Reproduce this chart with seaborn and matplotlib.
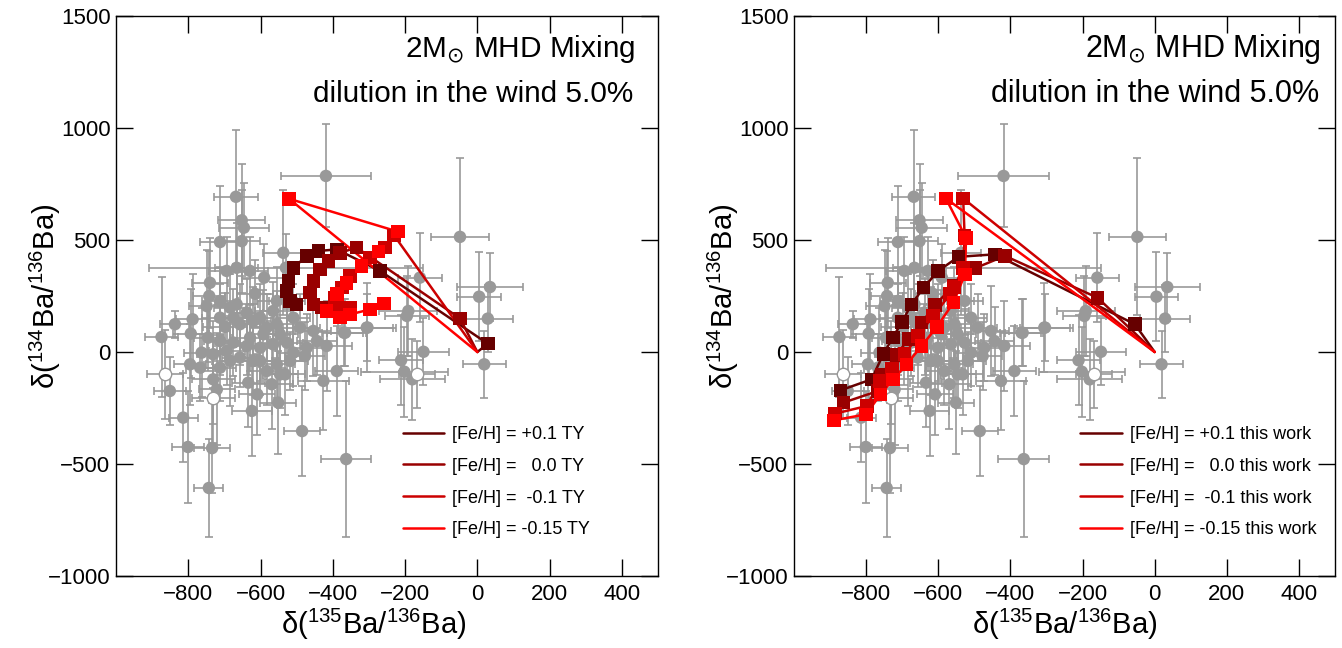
import numpy as np
import pandas as pd
import matplotlib
matplotlib.use("Agg")
import matplotlib.pyplot as plt
import seaborn as sns

# ---------------- data ----------------
# presolar SiC grains: delta(135Ba/136Ba), delta(134Ba/136Ba), errors, open symbol flag
grain_x = [-419, -668, -652, -646, -712, -652, -537, -666, -590, -740, -615, -742, -749, -666,
           -555, -837, -788, -874, -793, -698, -657, -629, -745, -592, -555, -454, -477, -417,
           -369, -306, -763, -795, -864, -851, -814, -731, -721, -731, -624, -609, -634, -551,
           -569, -532, -620, -684, -426, -389, -159, -191, -195, -149, -211, -202, -180, -168,
           -48, 35, 5, 29, 19, -304, -366, -801, -734, -743, -485, -363,
           -712, -684, -712, -675, -638, -601, -565, -620, -583, -546, -527, -565, -601, -638,
           -675, -712, -731, -694, -657, -601, -555, -518, -509, -546, -583, -712, -767, -527,
           -509, -491, -472, -444, -694, -629, -530]
grain_y = [786, 693, 588, 555, 491, 495, 443, 376, 332, 309, 260, 250, 205, 213,
           228, 124, 146, 67, 82, 112, 124, 64, 64, 79, 124, 94, -18, 27,
           86, 109, -3, -55, -100, -174, -293, -207, -167, -122, -263, -189, -137, -226,
           -144, -100, -40, -40, -129, -85, 332, 183, 161, 1, -37, -88, -122, -100,
           514, 290, 247, 149, -55, 109, 86, -424, -429, -607, -353, -478,
           228, 198, 153, 153, 176, 153, 183, 138, 109, 79, 42, 34, 19, 27,
           42, 49, -10, 4, -25, -40, -55, -40, -3, -100, -85, -70, -70, 228,
           153, 109, 19, 49, 362, 362, 376]
grain_xerr = [125, 60, 65, 70, 55, 50, 55, 60, 60, 50, 50, 45, 50, 60,
              55, 40, 45, 45, 50, 60, 45, 50, 40, 45, 60, 50, 55, 70,
              60, 80, 50, 45, 50, 45, 40, 60, 50, 60, 55, 50, 45, 50,
              60, 55, 70, 50, 70, 60, 60, 80, 60, 70, 60, 120, 90, 50,
              80, 90, 60, 70, 60, 70, 50, 45, 50, 40, 50, 70,
              50, 45, 50, 40, 45, 50, 50, 50, 45, 50, 45, 50, 45, 50,
              50, 45, 45, 50, 50, 55, 50, 50, 45, 50, 50, 45, 40, 50,
              45, 55, 50, 55, 50, 50, 380]
grain_yerr = [230, 300, 250, 200, 250, 230, 280, 200, 150, 200, 150, 200, 250, 180,
              150, 60, 200, 270, 200, 150, 180, 150, 150, 200, 150, 200, 150, 200,
              150, 200, 200, 180, 200, 150, 200, 200, 250, 200, 200, 180, 200, 230,
              200, 180, 150, 200, 220, 200, 200, 200, 180, 150, 200, 200, 180, 150,
              350, 150, 200, 150, 150, 150, 150, 250, 200, 220, 200, 350,
              150, 150, 150, 130, 150, 150, 130, 150, 150, 150, 150, 130, 150, 130,
              150, 150, 150, 150, 130, 150, 150, 130, 150, 150, 150, 150, 150, 150,
              150, 150, 150, 150, 150, 150, 150]
grain_open = [False] * len(grain_x)
for i in (32, 35, 55):
    grain_open[i] = True

# Models: left panel (TY)
ty_p01_x = [0, 29, -269, -389, -440, -472, -509, -523, -528, -518, -500]
ty_p01_y = [0, 37, 362, 458, 451, 429, 376, 317, 272, 228, 213]
ty_p00_x = [0, -48, -334, -380, -412, -435, -454, -463, -454, -431]
ty_p00_y = [0, 150, 466, 443, 406, 369, 317, 265, 213, 198]
ty_m01_x = [0, -230, -256, -297, -352, -375, -394, -389, -352]
ty_m01_y = [0, 520, 466, 421, 339, 287, 242, 205, 198]
ty_m015_x = [0, -521, -219, -274, -320, -362, -389, -417, -380, -352, -297, -258]
ty_m015_y = [0, 684, 537, 448, 384, 309, 258, 183, 153, 168, 190, 216]

# Models: right panel (this work)
tw_p01_x = [0, -55, -443, -544, -600, -641, -674, -701, -726, -752, -785, -871]
tw_p01_y = [0, 124, 436, 425, 362, 287, 213, 134, 64, -8, -122, -171]
tw_p00_x = [0, -158, -415, -498, -558, -609, -646, -683, -716, -757, -767, -863]
tw_p00_y = [0, 242, 429, 374, 295, 210, 131, 57, -13, -100, -174, -226]
tw_m01_x = [0, -531, -527, -531, -556, -567, -614, -656, -693, -729, -762, -798, -886]
tw_m01_y = [0, 686, 520, 376, 290, 258, 161, 71, -10, -77, -129, -241, -275]
tw_m015_x = [0, -579, -523, -526, -558, -604, -646, -688, -725, -760, -800, -889]
tw_m015_y = [0, 686, 510, 347, 220, 112, 27, -55, -122, -189, -278, -305]

series_colors = ["#660000", "#990000", "#cc0000", "#ff0000"]
ty_labels = ["[Fe/H] = +0.1 TY", "[Fe/H] =   0.0 TY", "[Fe/H] =  -0.1 TY", "[Fe/H] = -0.15 TY"]
tw_labels = ["[Fe/H] = +0.1 this work", "[Fe/H] =   0.0 this work",
             "[Fe/H] =  -0.1 this work", "[Fe/H] = -0.15 this work"]

x_ticks = [-800, -600, -400, -200, 0, 200, 400]
y_ticks = [-1000, -500, 0, 500, 1000, 1500]

# ---------------- style ----------------
sns.set_theme(style="ticks")
plt.rcParams["font.family"] = ["Liberation Sans", "DejaVu Sans"]
plt.rcParams["mathtext.fontset"] = "dejavusans"
plt.rcParams["axes.unicode_minus"] = True
plt.rcParams["text.color"] = "black"
plt.rcParams["axes.labelcolor"] = "black"
plt.rcParams["xtick.color"] = "black"
plt.rcParams["ytick.color"] = "black"

W, H = 1342, 648
fig = plt.figure(figsize=(W / 100, H / 100), dpi=100)
fig.patch.set_facecolor("white")

def frac_box(l, r, t, b):
    return [l / W, 1 - b / H, (r - l) / W, (b - t) / H]

ax_l = fig.add_axes(frac_box(116, 658, 16, 576))
ax_r = fig.add_axes(frac_box(794, 1335, 16, 576))

grains = pd.DataFrame({"x": grain_x, "y": grain_y, "xe": grain_xerr, "ye": grain_yerr,
                       "open": grain_open})

panels = [
    (ax_l, [(ty_p01_x, ty_p01_y), (ty_p00_x, ty_p00_y), (ty_m01_x, ty_m01_y), (ty_m015_x, ty_m015_y)],
     ty_labels, (0.533, 0.363), 21.4, 0.476),
    (ax_r, [(tw_p01_x, tw_p01_y), (tw_p00_x, tw_p00_y), (tw_m01_x, tw_m01_y), (tw_m015_x, tw_m015_y)],
     tw_labels, (0.538, 0.364), 22.0, 0.500),
]

GREY = "#999999"
for ax, models, labels, txt_x, tsize, xl_x in panels:
    ax.set_facecolor("white")
    ax.errorbar(grains["x"], grains["y"], xerr=grains["xe"], yerr=grains["ye"], fmt="none",
                ecolor=GREY, elinewidth=1.2, capsize=3, capthick=1.2, zorder=1)
    filled = grains[~grains["open"]]
    hollow = grains[grains["open"]]
    sns.scatterplot(data=filled, x="x", y="y", color=GREY, s=80, edgecolor="none",
                    ax=ax, zorder=2, legend=False)
    sns.scatterplot(data=hollow, x="x", y="y", facecolor="white", edgecolor=GREY, linewidth=1,
                    s=80, ax=ax, zorder=2, legend=False)
    handles = []
    for (mx, my), col, lab in zip(models, series_colors, labels):
        d = pd.DataFrame({"x": mx, "y": my, "order": range(len(mx))})
        sns.lineplot(data=d, x="x", y="y", sort=False, estimator=None, color=col, lw=1.8,
                     ax=ax, zorder=3, legend=False)
        handles.append(ax.get_lines()[-1])
        sns.scatterplot(data=d.iloc[1:], x="x", y="y", marker="s", color=col, s=95,
                        edgecolor="none", ax=ax, zorder=4, legend=False)
    ax.legend(handles, labels, loc="upper left", bbox_to_anchor=(0.529, 0.268),
              frameon=False, fontsize=13, handlelength=2.3, handletextpad=0.45,
              labelspacing=0.82, borderpad=0, borderaxespad=0)

    ax.set_xlim(-1000, 500)
    ax.set_ylim(-1000, 1500)
    ax.set_xticks(x_ticks)
    ax.set_yticks(y_ticks)
    ax.tick_params(direction="in", length=12, width=1, top=True, right=True,
                   labelsize=16, colors="black")
    ax.tick_params(axis="x", pad=6)
    ax.tick_params(axis="y", pad=4)
    for sp in ax.spines.values():
        sp.set_color("black")
        sp.set_linewidth(1)
    ax.set_xlabel(r"δ($^{\mathregular{135}}$Ba/$^{\mathregular{136}}$Ba)", fontsize=21)
    ax.xaxis.set_label_coords(xl_x, -0.055)
    ax.set_ylabel(r"δ($^{\mathregular{134}}$Ba/$^{\mathregular{136}}$Ba)", fontsize=21)
    ax.yaxis.set_label_coords(-0.098, 0.5)
    ax.text(txt_x[0], 0.927, r"2M$_{\odot}$ MHD Mixing", transform=ax.transAxes,
            ha="left", va="baseline", fontsize=tsize)
    ax.text(txt_x[1], 0.846, "dilution in the wind 5.0%", transform=ax.transAxes,
            ha="left", va="baseline", fontsize=tsize)
    ax.grid(False)

fig.savefig("out.png", dpi=100)
